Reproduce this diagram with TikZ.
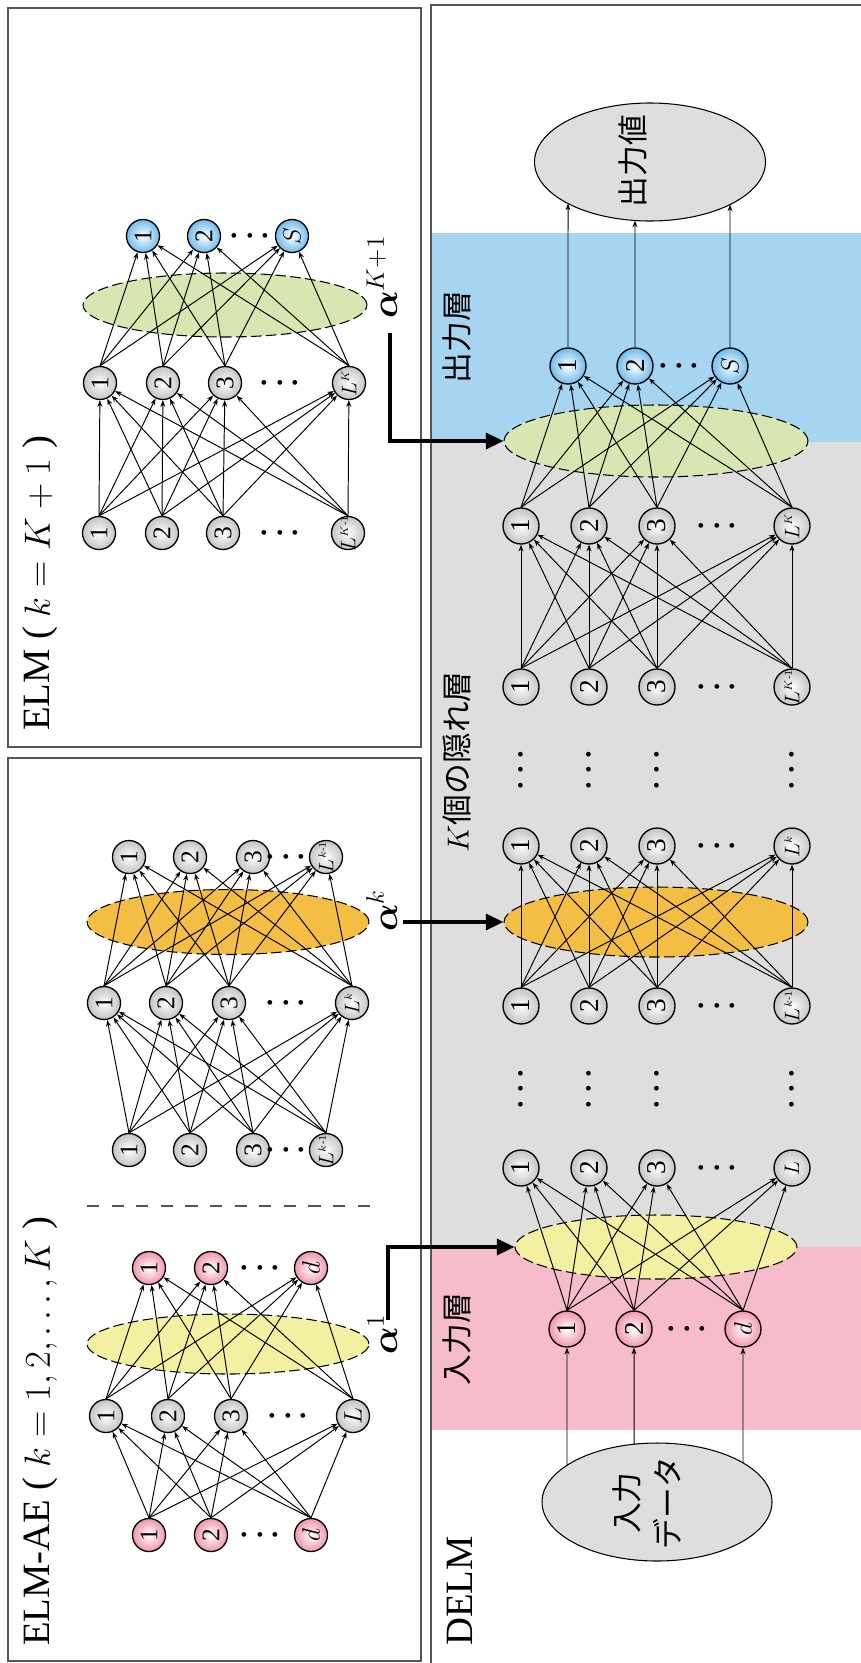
\documentclass[tikz,border=0pt]{standalone}
\usepackage{amsmath}
\usepackage[no-math]{fontspec}
\setmainfont{Liberation Serif}
\newfontfamily\jp{Noto Sans CJK JP}
\usetikzlibrary{arrows.meta,shapes.geometric,intersections}

\definecolor{bandblue}{HTML}{A6D5F1}
\definecolor{bandgray}{HTML}{DEDEDE}
\definecolor{bandpink}{HTML}{F7BCCB}
\definecolor{blobgreen}{HTML}{D8E6B2}
\definecolor{bloborange}{HTML}{F4BE44}
\definecolor{blobyellow}{HTML}{F2F1A2}
\definecolor{unitgray}{HTML}{C4C4C4}
\definecolor{unitpink}{HTML}{F096AC}
\definecolor{unitblue}{HTML}{6FBBEA}
\definecolor{framegray}{HTML}{555555}

% layer size labels, kept small so they stay inside the circles
\newcommand{\Lsup}[1]{{\fontsize{12}{13}\selectfont$L^{\scriptscriptstyle #1}$}}

\tikzset{
	unit/.style={circle, draw, line width=0.75pt, inner sep=0pt, minimum size=0.66cm, rotate=90,
		font=\fontsize{14.5}{16}\selectfont, inner color=white, outer color=#1},
	unit/.default=unitgray,
	bigunit/.style={unit=#1, minimum size=0.72cm, font=\fontsize{15.5}{17}\selectfont},
	bigunit/.default=unitgray,
	link/.style={line width=0.55pt, -{Stealth[length=3.8pt,width=2.8pt]}},
	feed/.style={line width=2pt, -{Triangle[length=10pt,width=9pt]}},
	blob/.style={ellipse, draw, line width=0.6pt, dash pattern=on 6pt off 2.5pt, inner sep=0pt, fill=#1},
	frame/.style={draw=framegray, line width=0.7pt},
	title/.style={rotate=90, anchor=base west, font=\fontsize{22}{26}\selectfont},
	tag/.style={rotate=90, align=center, font=\fontsize{17.5}{23}\selectfont\jp},
	weight/.style={rotate=90, anchor=base west, font=\fontsize{20}{24}\selectfont},
	hdots/.style={font=\fontsize{17}{19}\selectfont},
	vdots/.style={hdots, rotate=90},
	store/.style={draw, line width=0.6pt, fill=bandgray},
}

\begin{document}
\begin{tikzpicture}[x=0.02cm, y=-0.02cm]
	\useasboundingbox (0,0) rectangle (861,1663);

	% ================= DELM: layer bands and frame =================
	\fill[bandblue] (431,233) rectangle (861,442);
	\fill[bandgray] (431,442) rectangle (861,1247);
	\fill[bandpink] (431,1247) rectangle (861,1430);
	\draw[frame] (431,5) rectangle (862,1665);

	% ================= ELM (k = K+1) =================
	\draw[frame] (8,8) rectangle (421,747);
	\node[title] (elmT) at (50,737) {ELM ( $k=K+1$ )};

	\foreach \x/\lab [count=\i] in {99/1,162/2,223/3,348/{\Lsup{K\text{-}1}}}
		\node[unit] (eA\i) at (\x,533) {\makebox[0pt]{\lab}};
	\node[hdots] at (283,533) {$\boldsymbol{\cdots}$};
	\foreach \x/\lab [count=\i] in {100/1,163/2,225/3,349/{\Lsup{K}}}
		\node[unit] (eB\i) at (\x,383) {\makebox[0pt]{\lab}};
	\node[hdots] at (283,383) {$\boldsymbol{\cdots}$};
	\node[blob=blobgreen, minimum width=5.68cm, minimum height=1.28cm] (eGreen) at (225,305) {};
	\foreach \x/\lab [count=\i] in {143/1,204/2,292/{$S$}}
		\node[unit=unitblue] (eC\i) at (\x,236) {\makebox[0pt]{\lab}};
	\node[hdots] at (253,236) {$\boldsymbol{\cdots}$};

	\foreach \src in {1,...,4}{
		\foreach \dst in {1,...,4} \draw[link] (eA\src.east) -- (eB\dst);
		\foreach \dst in {1,...,3} \draw[link] (eB\src.east) -- (eC\dst);
	}

	% ================= ELM-AE (k = 1..K) =================
	\draw[frame] (8,758) rectangle (421,1661);
	\node[title] (aeT) at (50,1652) {ELM-AE ( $k=1,2,\ldots,K$ )};

	% k-th autoencoder
	\foreach \x/\lab [count=\i] in {129/1,190/2,253/3,326/{\Lsup{k\text{-}1}}}
		\node[unit] (uA\i) at (\x,1150) {\makebox[0pt]{\lab}};
	\node[hdots] at (289,1150) {$\boldsymbol{\cdots}$};
	\foreach \x/\lab [count=\i] in {104/1,166/2,229/3,352/{\Lsup{k}}}
		\node[unit] (uB\i) at (\x,1003) {\makebox[0pt]{\lab}};
	\node[hdots] at (289,1003) {$\boldsymbol{\cdots}$};
	\node[blob=bloborange, minimum width=5.64cm, minimum height=1.3cm] (uOrange) at (228,922) {};
	\foreach \x/\lab [count=\i] in {129/1,190/2,253/3,326/{\Lsup{k\text{-}1}}}
		\node[unit] (uC\i) at (\x,857) {\makebox[0pt]{\lab}};
	\node[hdots] at (289,857) {$\boldsymbol{\cdots}$};

	\foreach \src in {1,...,4}
		\foreach \dst in {1,...,4}{
			\draw[link] (uA\src.east) -- (uB\dst);
			\draw[link] (uB\src.east) -- (uC\dst);
		}

	\draw[framegray, line width=0.7pt, dash pattern=on 7pt off 7pt] (87,1206) -- (381,1206);

	% first autoencoder
	\foreach \x/\lab [count=\i] in {149/1,211/2,311/{$d$}}
		\node[unit=unitpink] (lA\i) at (\x,1535) {\makebox[0pt]{\lab}};
	\node[hdots] at (263,1535) {$\boldsymbol{\cdots}$};
	\foreach \x/\lab [count=\i] in {106/1,168/2,231/3,353/{$L$}}
		\node[unit] (lB\i) at (\x,1416) {\makebox[0pt]{\lab}};
	\node[hdots] at (291,1416) {$\boldsymbol{\cdots}$};
	\node[blob=blobyellow, minimum width=5.64cm, minimum height=1.2cm] (lYellow) at (228,1344) {};
	\foreach \x/\lab [count=\i] in {149/1,211/2,311/{$d$}}
		\node[unit=unitpink] (lC\i) at (\x,1268) {\makebox[0pt]{\lab}};
	\node[hdots] at (263,1268) {$\boldsymbol{\cdots}$};

	\foreach \src in {1,...,3}
		\foreach \dst in {1,...,4} \draw[link] (lA\src.east) -- (lB\dst);
	\foreach \src in {1,...,4}
		\foreach \dst in {1,...,3} \draw[link] (lB\src.east) -- (lC\dst);

	% ================= DELM =================
	\node[title] (delmT) at (472,1652) {DELM};
	\node[tag] (tagOut) at (457,337) {出力層};
	\node[tag] (tagHid) at (457,762) {$K$個の隠れ層};
	\node[tag] (tagIn) at (457,1339) {入力層};

	\draw[store, name path=valRim] (650,162) ellipse (115.5 and 59);
	\node[tag] (dVal) at (633,161) {出力値};
	\draw[store, name path=dataRim] (657,1502) ellipse (115 and 59);
	\node[tag] (dData) at (647,1503) {入力\\データ};

	\foreach \x/\lab [count=\i] in {568/1,635/2,730/{$S$}}
		\node[bigunit=unitblue] (dOut\i) at (\x,366) {\makebox[0pt]{\lab}};
	\node[hdots] at (682,366) {$\boldsymbol{\cdots}$};
	\node[blob=blobgreen, minimum width=6.08cm, minimum height=1.44cm] (dGreen) at (656,441) {};

	% hidden layers: L, L^{k-1}, L^k, L^{K-1}, L^K
	\foreach \y/\hi [count=\r] in {1168/{},1006/{k\text{-}1},846/{k},687/{K\text{-}1},526/{K}}
		\foreach \x/\lab [count=\i] in {521/1,589/2,657/3,792/{\Lsup{\hi}}}
			\node[bigunit] (dR\r\i) at (\x,\y) {\makebox[0pt]{\lab}};
	\foreach \y in {1168,1006,846,687,526}
		\node[hdots] at (720,\y) {$\boldsymbol{\cdots}$};
	\foreach \y in {767,1086}
		\foreach \x in {521,589,657,792}
			\node[vdots] at (\x,\y) {$\boldsymbol{\cdots}$};
	\node[blob=bloborange, minimum width=6.08cm, minimum height=1.4cm] (dOrange) at (656,922) {};
	\node[blob=blobyellow, minimum width=5.64cm, minimum height=1.28cm] (dYellow) at (656,1247) {};

	\foreach \x/\lab [count=\i] in {567/1,634/2,743/{$d$}}
		\node[bigunit=unitpink] (dIn\i) at (\x,1329) {\makebox[0pt]{\lab}};
	\node[hdots] at (690,1329) {$\boldsymbol{\cdots}$};

	\foreach \src in {1,...,3}
		\foreach \dst in {1,...,4} \draw[link] (dIn\src.east) -- (dR1\dst);
	\foreach \src in {1,...,4}{
		\foreach \dst in {1,...,4}{
			\draw[link] (dR2\src.east) -- (dR3\dst);
			\draw[link] (dR4\src.east) -- (dR5\dst);
		}
		\foreach \dst in {1,...,3} \draw[link] (dR5\src.east) -- (dOut\dst);
	}

	% data in and values out, cut at the rims
	\foreach \i in {1,2,3}{
		\path[name path=rayOut] (dOut\i) -- ++(0,-180);
		\draw[link, name intersections={of=valRim and rayOut, by=hitOut}] (dOut\i.east) -- (hitOut);
		\path[name path=rayIn] (dIn\i) -- ++(0,180);
		\draw[link, name intersections={of=dataRim and rayIn, by=hitIn}] (hitIn) -- (dIn\i);
	}

	% ================= weights handed over =================
	\node[weight] (wTop) at (397,325) {$\boldsymbol{\alpha}^{K+1}$};
	\coordinate (tailTop) at (390,333);
	\draw[feed] (tailTop) |- (dGreen.west);

	\node[weight] (wMid) at (397,938) {$\boldsymbol{\alpha}^{k}$};
	\draw[feed] (wMid.south |- dOrange.west) -- (dOrange.west);

	\node[weight] (wLow) at (397,1361) {$\boldsymbol{\alpha}^{1}$};
	\coordinate (tailLow) at (388,1320);
	\draw[feed] (tailLow) |- (dYellow.west);

\end{tikzpicture}
\end{document}
